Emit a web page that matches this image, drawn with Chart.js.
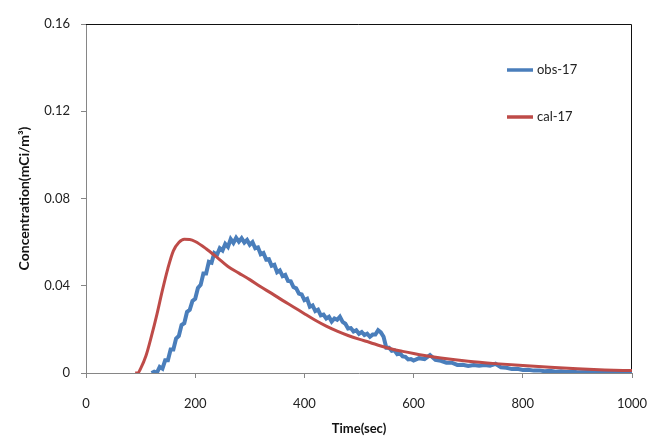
<!DOCTYPE html>
<html>
<head>
<meta charset="utf-8">
<script src="https://cdn.jsdelivr.net/npm/chart.js@4/dist/chart.umd.min.js"></script>
<style>
  html,body{margin:0;padding:0;background:#fff;}
  #wrap{width:653px;height:445px;}
</style>
</head>
<body>
<div id="wrap"><canvas id="grafico" width="653" height="445"></canvas></div>
<script>
// Dados
const obsTempo = [120,125,130,135,140,145,150,155,160,165,170,175,180,185,190,195,200,205,210,215,220,225,230,235,240,245,250,255,260,265,270,275,280,285,290,295,300,305,310,315,320,325,330,335,340,345,350,355,360,365,370,375,380,385,390,395,400,405,410,415,420,425,430,435,440,445,450,455,460,465,470,475,480,485,490,495,500,505,510,515,520,525,530,535,540,545,550,555,560,565,570,575,580,585,590,595,600,610,620,630,640,650,660,670,680,690,700,710,720,730,740,750,760,770,780,790,800,810,820,830,840,850,860,870,880,890,900,920,940,960,980,1000];
const obsConc = [0.0000,0.0006,0.0002,0.0028,0.0020,0.0058,0.0058,0.0108,0.0108,0.0158,0.0170,0.0220,0.0228,0.0280,0.0290,0.0330,0.0340,0.0390,0.0404,0.0456,0.0456,0.0510,0.0506,0.0550,0.0542,0.0572,0.0562,0.0592,0.0578,0.0614,0.0596,0.0620,0.0602,0.0618,0.0598,0.0610,0.0588,0.0600,0.0572,0.0576,0.0544,0.0550,0.0520,0.0522,0.0492,0.0496,0.0462,0.0470,0.0444,0.0450,0.0422,0.0420,0.0394,0.0388,0.0364,0.0360,0.0334,0.0340,0.0304,0.0310,0.0284,0.0290,0.0264,0.0268,0.0250,0.0258,0.0236,0.0250,0.0244,0.0258,0.0234,0.0226,0.0204,0.0206,0.0190,0.0196,0.0180,0.0188,0.0174,0.0180,0.0166,0.0176,0.0176,0.0196,0.0186,0.0166,0.0116,0.0116,0.0102,0.0104,0.0086,0.0090,0.0076,0.0074,0.0062,0.0064,0.0057,0.0068,0.0064,0.0082,0.0060,0.0056,0.0047,0.0047,0.0037,0.0038,0.0032,0.0037,0.0033,0.0037,0.0033,0.0042,0.0026,0.0024,0.0018,0.0019,0.0014,0.0015,0.0011,0.0012,0.0008,0.0010,0.0006,0.0008,0.0005,0.0007,0.0004,0.0005,0.0003,0.0004,0.0003,0.0004];

const calTempo = [90,95,100,110,120,130,140,150,160,170,180,190,200,220,240,260,280,300,320,340,360,380,400,420,440,460,480,500,520,540,560,580,600,620,650,700,750,800,850,900,950,1000];
const calConc = [0,0,0.002,0.008,0.017,0.027,0.038,0.048,0.056,0.0598,0.0613,0.0612,0.0603,0.0570,0.0530,0.0488,0.0458,0.0428,0.0395,0.0365,0.0333,0.0303,0.0272,0.0242,0.0215,0.0192,0.0172,0.0155,0.0140,0.0124,0.0110,0.0099,0.0089,0.0080,0.0069,0.0054,0.0043,0.0034,0.0026,0.0019,0.0014,0.0011];

const ticksX = [0,200,400,600,800,1000];
const ticksY = [0,0.04,0.08,0.12,0.16];
const nomes = ['obs-17','cal-17'];
const cores = ['#4a7ebb','#be4b48'];

const fonte = 'Lato, "Open Sans", sans-serif';

// moldura da área do gráfico
const moldura = {
  id:'moldura',
  beforeDatasetsDraw(chart){
    const {ctx, chartArea:a} = chart;
    ctx.save();
    ctx.lineWidth = 1;
    ctx.strokeStyle = '#111';
    ctx.beginPath();
    ctx.moveTo(a.left, a.top+0.5);
    ctx.lineTo(a.right-0.5, a.top+0.5);
    ctx.lineTo(a.right-0.5, a.bottom);
    ctx.stroke();
    ctx.restore();
  }
};

// legenda dentro do gráfico
const legendaInterna = {
  id:'legendaInterna',
  afterDraw(chart){
    const ctx = chart.ctx;
    const pos = [70,117];
    ctx.save();
    chart.data.datasets.forEach((ds,i)=>{
      ctx.strokeStyle = ds.borderColor;
      ctx.lineWidth = 3.5;
      ctx.beginPath();
      ctx.moveTo(507,pos[i]);
      ctx.lineTo(533,pos[i]);
      ctx.stroke();
      ctx.fillStyle = '#222';
      ctx.font = '13px ' + fonte;
      ctx.textBaseline = 'middle';
      ctx.fillText(ds.label,537,pos[i]);
    });
    ctx.restore();
  }
};

new Chart(document.getElementById('grafico').getContext('2d'),{
  type:'line',
  data:{
    datasets:[
      {
        label:nomes[0],
        data:obsTempo.map((t,i)=>({x:t,y:obsConc[i]})),
        borderColor:cores[0],
        borderWidth:4,
        pointRadius:0,
        tension:0,
        order:1
      },
      {
        label:nomes[1],
        data:calTempo.map((t,i)=>({x:t,y:calConc[i]})),
        borderColor:cores[1],
        borderWidth:3,
        pointRadius:0,
        cubicInterpolationMode:'monotone',
        order:0
      }
    ]
  },
  options:{
    responsive:false,
    animation:false,
    layout:{padding:{top:24,right:21,left:0,bottom:0}},
    plugins:{legend:{display:false},tooltip:{enabled:false}},
    scales:{
      x:{
        type:'linear',
        min:0,max:1000,
        afterBuildTicks:s=>{s.ticks = ticksX.map(v=>({value:v}));},
        afterFit:s=>{s.height = 72; s.paddingRight = 0; s.paddingLeft = 0;},
        grid:{display:true,drawOnChartArea:false,color:'#868686',tickLength:5},
        border:{color:'#868686'},
        ticks:{color:'#222',font:{family:fonte,size:13},padding:18,maxRotation:0,callback:v=>String(v)},
        title:{display:true,text:'Time(sec)',color:'#111',font:{family:fonte,size:13,weight:'bold'},padding:{top:4,bottom:8}}
      },
      y:{
        min:0,max:0.16,
        afterBuildTicks:s=>{s.ticks = ticksY.map(v=>({value:v}));},
        afterFit:s=>{s.width = 86; s.paddingTop = 0; s.paddingBottom = 0;},
        grid:{display:true,drawOnChartArea:false,color:'#868686',tickLength:5},
        border:{color:'#868686'},
        ticks:{color:'#222',font:{family:fonte,size:13},padding:11,callback:v=>String(+v.toFixed(2))},
        title:{display:true,text:'Concentration(mCi/m³)',color:'#111',font:{family:fonte,size:14,weight:'bold'},padding:{top:16,bottom:4}}
      }
    }
  },
  plugins:[moldura,legendaInterna]
});
</script>
</body>
</html>
